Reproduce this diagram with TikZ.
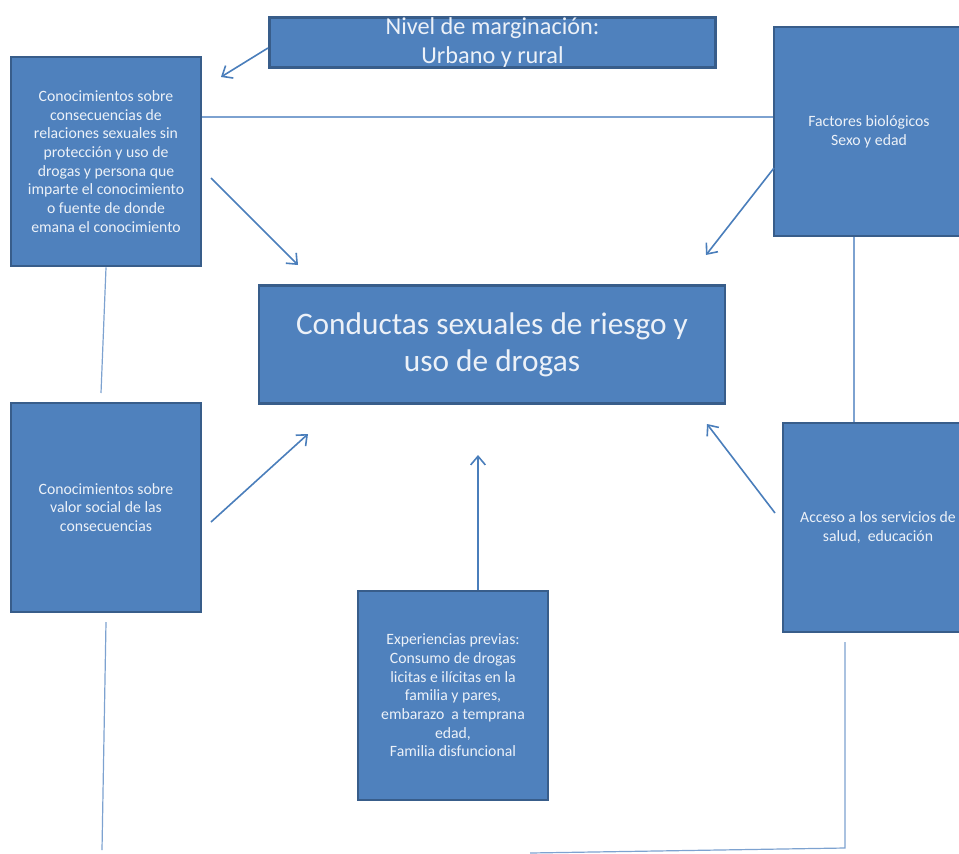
\documentclass[tikz,border=0pt]{standalone}
\usepackage{fontspec}
\setmainfont{Carlito}
\usetikzlibrary{arrows.meta}
\definecolor{box_fill}{RGB}{79,129,189}
\definecolor{box_edge}{RGB}{56,93,138}
\definecolor{edge_blue}{RGB}{74,126,187}
\definecolor{edge_light}{RGB}{125,162,208}
\definecolor{text_white}{RGB}{236,241,248}

\begin{document}
\begin{tikzpicture}[x=0.75pt,y=-0.75pt,>={Straight Barb[length=6.5pt,width=11pt]},line width=1.2pt]
    \tikzstyle{box}=[draw=box_edge, line width=2.2pt, fill=box_fill, text=text_white, align=center, inner sep=0pt, minimum width=142.5pt, minimum height=156.75pt, font=\fontsize{11.8}{14}\selectfont]
    \tikzstyle{arr}=[->,draw=edge_blue]
    \tikzstyle{lnk}=[draw=edge_light,line width=0.9pt]
    \path[use as bounding box,clip] (0,0) rectangle (959,853);

    \node[box,minimum width=335pt,minimum height=38pt,font=\fontsize{18.2}{21.75}\selectfont] (marg) at (492.5,42.5) {Nivel de marginación:\\Urbano y rural};
    \node[box] (conocA) at (106,161.5) {Conocimientos sobre\\consecuencias de\\relaciones sexuales sin\\protección y uso de\\drogas y persona que\\imparte el conocimiento\\o fuente de donde\\emana el conocimiento};
    \node[box] (factores) at (869,131.5) {Factores biológicos\\Sexo y edad};
    \node[box,minimum width=349.5pt,minimum height=89pt,font=\fontsize{23.5}{27.75}\selectfont] (central) at (492,344.5) {Conductas sexuales de riesgo y\\uso de drogas};
    \node[box] (conocB) at (106,507.5) {Conocimientos sobre\\valor social de las\\consecuencias};
    \node[box] (acceso) at (878,527.5) {Acceso a los servicios de\\salud,\ \ educación};
    \node[box] (exper) at (453,695.5) {Experiencias previas:\\Consumo de drogas\\licitas e ilícitas en la\\familia y pares,\\embarazo\ \ a temprana\\edad,\\Familia disfuncional};

    % free ends of the connectors
    \coordinate (m1) at (268,48);   \coordinate (m2) at (221,77);
    \coordinate (a1) at (211,178);  \coordinate (a2) at (298,265);
    \coordinate (f1) at (774,168);  \coordinate (f2) at (706,255);
    \coordinate (b1) at (211,522);  \coordinate (b2) at (308,434);
    \coordinate (e2) at (478,455);
    \coordinate (s1) at (775,513);  \coordinate (s2) at (707,424);
    \coordinate (hl) at (0,117);    \coordinate (vr) at (854,0);
    \coordinate (l1) at (101,393);
    \coordinate (l2) at (106,622);  \coordinate (l3) at (102,850);
    \coordinate (r1) at (845,642);  \coordinate (r2) at (845,848);
    \coordinate (r3) at (530,853);

    \path
     (m1) edge[arr] (m2)
     (a1) edge[arr] (a2)
     (f1) edge[arr] (f2)
     (b1) edge[arr] (b2)
     (exper.north -| e2) edge[arr] (e2)
     (s1) edge[arr] (s2);

    \path
     (conocA.east |- hl) edge[lnk] (factores.west |- hl)
     (factores.south -| vr) edge[lnk] (acceso.north -| vr)
     (conocA.south) edge[lnk] (l1)
     (l2) edge[lnk] (l3);
    \draw[lnk] (r1) -- (r2) -- (r3);
\end{tikzpicture}
\end{document}
